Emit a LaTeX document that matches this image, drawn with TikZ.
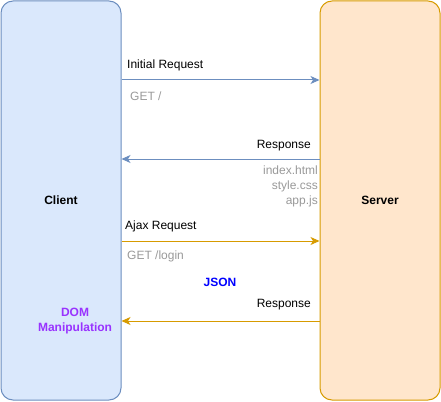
\documentclass[tikz,border=0pt]{standalone}
\usepackage{fontspec}
\setmainfont{Liberation Sans}
\usetikzlibrary{arrows.meta}
\definecolor{cfill}{HTML}{DAE8FC}
\definecolor{cline}{HTML}{6C8EBF}
\definecolor{sfill}{HTML}{FFE6CC}
\definecolor{sline}{HTML}{D79B00}
\definecolor{graytxt}{HTML}{999999}
\definecolor{jsonblue}{HTML}{0000FF}
\definecolor{dompurple}{HTML}{9933FF}
\tikzset{
  box/.style={rounded corners=12pt, line width=1pt, minimum width=120pt, minimum height=399pt, inner sep=0pt, font=\fontsize{12}{14}\selectfont\bfseries},
  lbl/.style={inner sep=0pt, font=\fontsize{12}{14}\selectfont},
  glbl/.style={lbl, text=graytxt},
  msg/.style={line width=1pt, -{Stealth[length=9pt,width=8pt,inset=2.5pt]}},
}
\begin{document}
\begin{tikzpicture}[x=1pt,y=-1pt]
\useasboundingbox (0,0) rectangle (441,401);
\node[box, fill=cfill, draw=cline] (client) at (61,200.5) {Client};
\node[box, fill=sfill, draw=sline] (server) at (380,200.5) {Server};

\draw[msg, cline] (client.east |- 0,80) -- (server.west |- 0,80);
\draw[msg, cline] (server.west |- 0,159) -- (client.east |- 0,159);
\draw[msg, sline] (client.east |- 0,241) -- (server.west |- 0,241);
\draw[msg, sline] (server.west |- 0,321) -- (client.east |- 0,321);

\node[lbl, anchor=west] (l1) at (127,65) {Initial Request};
\node[glbl, anchor=west] (l2) at (130,96) {GET /};
\node[lbl, anchor=east] (l3) at (311,146) {Response};
\node[glbl, anchor=east, align=right, font=\fontsize{12}{15}\selectfont] (l4) at (318,186) {index.html\\style.css\\app.js};
\node[lbl, anchor=west] (l5) at (125,226) {Ajax Request};
\node[glbl, anchor=west] (l6) at (127,256) {GET /login};
\node[lbl, text=jsonblue, font=\fontsize{12}{14}\selectfont\bfseries] (l7) at (220,282) {JSON};
\node[lbl, anchor=east] (l8) at (311,305) {Response};
\node[lbl, text=dompurple, align=center, font=\fontsize{12}{15}\selectfont\bfseries] (l9) at (75,321) {DOM\\Manipulation};
\end{tikzpicture}
\end{document}
